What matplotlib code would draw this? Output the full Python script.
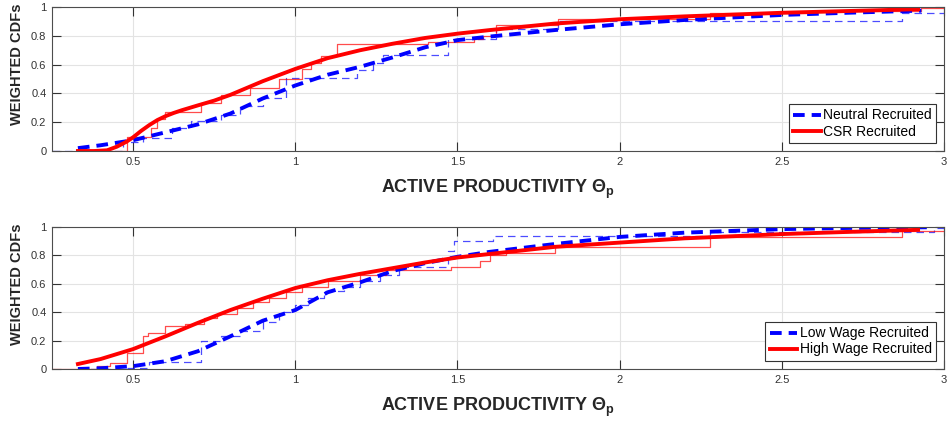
import matplotlib
matplotlib.use("Agg")
import matplotlib.pyplot as plt
from matplotlib import font_manager

# ---- data ----
# top panel: fitted CDFs
csr_fit_x = [0.33, 0.38, 0.42, 0.45, 0.48, 0.5, 0.525, 0.55, 0.575, 0.6, 0.625, 0.65, 0.7, 0.75,
             0.8, 0.9, 1.0, 1.1, 1.2, 1.3, 1.4, 1.5, 1.6, 1.8, 2.0, 2.2, 2.5, 2.7, 2.92]
csr_fit_y = [0.0, 0.0, 0.005, 0.03, 0.065, 0.095, 0.14, 0.18, 0.215, 0.242, 0.264, 0.283, 0.317,
             0.35, 0.39, 0.485, 0.57, 0.645, 0.70, 0.745, 0.785, 0.815, 0.84, 0.885, 0.915,
             0.935, 0.96, 0.972, 0.985]
neu_fit_x = [0.33, 0.4, 0.5, 0.6, 0.7, 0.8, 0.9, 1.0, 1.1, 1.2, 1.3, 1.4, 1.5, 1.6, 1.8, 2.0,
             2.2, 2.5, 2.7, 2.93]
neu_fit_y = [0.02, 0.04, 0.075, 0.13, 0.185, 0.26, 0.365, 0.455, 0.53, 0.585, 0.65, 0.72, 0.77,
             0.795, 0.84, 0.88, 0.91, 0.945, 0.96, 0.975]

# top panel: empirical (step) CDFs
csr_emp_x = [0.33, 0.48, 0.555, 0.575, 0.6, 0.71, 0.77, 0.86, 0.95, 1.02, 1.05, 1.08, 1.13, 1.41,
             1.55, 1.58, 1.62, 1.81, 2.28, 2.6, 2.93, 3.0]
csr_emp_y = [0.0, 0.1, 0.16, 0.22, 0.27, 0.33, 0.39, 0.44, 0.5, 0.57, 0.61, 0.66, 0.745, 0.76,
             0.78, 0.80, 0.875, 0.92, 0.96, 0.975, 0.995, 0.995]
neu_emp_x = [0.25, 0.47, 0.53, 0.62, 0.68, 0.77, 0.83, 0.9, 0.97, 1.19, 1.24, 1.27, 1.47, 1.62,
             1.81, 2.87, 3.0]
neu_emp_y = [0.0, 0.06, 0.09, 0.16, 0.21, 0.25, 0.31, 0.37, 0.51, 0.56, 0.61, 0.67, 0.78, 0.85,
             0.9, 0.96, 0.96]

# bottom panel: fitted CDFs
hi_fit_x = [0.33, 0.4, 0.5, 0.6, 0.7, 0.8, 0.9, 1.0, 1.1, 1.2, 1.3, 1.4, 1.5, 1.6, 1.8, 2.0,
            2.2, 2.5, 2.7, 2.92]
hi_fit_y = [0.035, 0.07, 0.14, 0.23, 0.325, 0.415, 0.495, 0.57, 0.625, 0.67, 0.71, 0.75, 0.785,
            0.81, 0.86, 0.89, 0.92, 0.95, 0.965, 0.98]
lo_fit_x = [0.33, 0.4, 0.5, 0.6, 0.7, 0.8, 0.9, 1.0, 1.1, 1.2, 1.3, 1.4, 1.5, 1.6, 1.8, 2.0,
            2.2, 2.5, 2.7, 2.95]
lo_fit_y = [0.0, 0.005, 0.02, 0.055, 0.125, 0.23, 0.34, 0.415, 0.54, 0.61, 0.69, 0.745, 0.79,
            0.825, 0.88, 0.93, 0.96, 0.985, 0.993, 0.998]

# bottom panel: empirical (step) CDFs
hi_emp_x = [0.25, 0.39, 0.43, 0.48, 0.53, 0.545, 0.6, 0.66, 0.72, 0.76, 0.82, 0.87, 0.92, 0.97,
            1.02, 1.1, 1.2, 1.28, 1.48, 1.57, 1.6, 1.65, 1.8, 2.28, 2.87, 3.0]
hi_emp_y = [0.0, 0.02, 0.04, 0.11, 0.23, 0.25, 0.3, 0.32, 0.36, 0.39, 0.43, 0.47, 0.5, 0.54,
            0.58, 0.62, 0.66, 0.7, 0.72, 0.76, 0.8, 0.82, 0.86, 0.93, 0.97, 0.97]
lo_emp_x = [0.33, 0.47, 0.55, 0.71, 0.77, 0.83, 0.9, 0.95, 1.0, 1.04, 1.09, 1.15, 1.2, 1.26,
            1.32, 1.47, 1.49, 1.61, 2.28, 2.97, 3.0]
lo_emp_y = [0.0, 0.01, 0.05, 0.2, 0.23, 0.27, 0.33, 0.4, 0.45, 0.5, 0.55, 0.58, 0.62, 0.66,
            0.72, 0.83, 0.9, 0.94, 0.965, 0.99, 0.99]

x_ticks = [0.5, 1, 1.5, 2, 2.5, 3]
x_tick_labels = ["0.5", "1", "1.5", "2", "2.5", "3"]
y_ticks = [0, 0.2, 0.4, 0.6, 0.8, 1]
y_tick_labels = ["0", "0.2", "0.4", "0.6", "0.8", "1"]

panels = [
    (neu_emp_x, neu_emp_y, csr_emp_x, csr_emp_y, neu_fit_x, neu_fit_y, csr_fit_x, csr_fit_y,
     "Neutral Recruited", "CSR Recruited"),
    (lo_emp_x, lo_emp_y, hi_emp_x, hi_emp_y, lo_fit_x, lo_fit_y, hi_fit_x, hi_fit_y,
     "Low Wage Recruited", "High Wage Recruited"),
]

names = {f.name for f in font_manager.fontManager.ttflist}
narrow = "Liberation Sans Narrow" if "Liberation Sans Narrow" in names else "Liberation Sans"
plt.rcParams["font.family"] = ["Liberation Sans", "DejaVu Sans"]
plt.rcParams["mathtext.fontset"] = "custom"
plt.rcParams["mathtext.rm"] = "Liberation Sans"
plt.rcParams["mathtext.bf"] = "Liberation Sans:bold"
plt.rcParams["mathtext.it"] = "Liberation Sans:bold"

fig = plt.figure(figsize=(9.5, 4.23), dpi=100)
rects = [[0.0547, 0.643, 0.939, 0.3404], [0.0547, 0.1277, 0.939, 0.3357]]

for rect, p in zip(rects, panels):
    bx, by, rx, ry, bfx, bfy, rfx, rfy, lab_b, lab_r = p
    ax = fig.add_axes(rect)
    ax.plot(bx, by, color="blue", lw=0.9, alpha=0.7, drawstyle="steps-post",
            dashes=(6, 4))
    ax.plot(rx, ry, color="red", lw=0.9, alpha=0.7, drawstyle="steps-post")
    hb, = ax.plot(bfx, bfy, color="blue", lw=2.8, dashes=(3, 1.8), label=lab_b)
    hr, = ax.plot(rfx, rfy, color="red", lw=2.8, label=lab_r)

    ax.set_xlim(0.25, 3)
    ax.set_ylim(0, 1)
    ax.set_xticks(x_ticks)
    ax.set_xticklabels(x_tick_labels, family=narrow)
    ax.set_yticks(y_ticks)
    ax.set_yticklabels(y_tick_labels, family=narrow)
    ax.grid(True, color="#e3e3e3", lw=0.8)
    ax.set_axisbelow(True)
    ax.tick_params(direction="in", length=6.5, width=0.8, top=True, right=True,
                   labelsize=8, colors="0.2", pad=4)
    for s in ax.spines.values():
        s.set_color("0.3")
        s.set_linewidth(0.8)

    ax.set_xlabel(r"ACTIVE PRODUCTIVITY $\mathbf{\Theta_p}$", fontsize=13,
                  fontweight="bold", color="0.15", labelpad=8)
    ax.set_ylabel("WEIGHTED CDFs", fontsize=10.5, fontweight="bold", family=narrow,
                  color="0.15")
    ax.yaxis.set_label_coords(-0.031, 0.6)

    leg = ax.legend(handles=[hb, hr], loc="lower right", fontsize=10, frameon=True,
                    fancybox=False, framealpha=1, edgecolor="0.2", borderpad=0.3,
                    labelspacing=0.15, handlelength=2.0, handletextpad=0.15,
                    borderaxespad=0.6)
    leg.get_frame().set_linewidth(0.8)

fig.savefig("out.png", dpi=100)
